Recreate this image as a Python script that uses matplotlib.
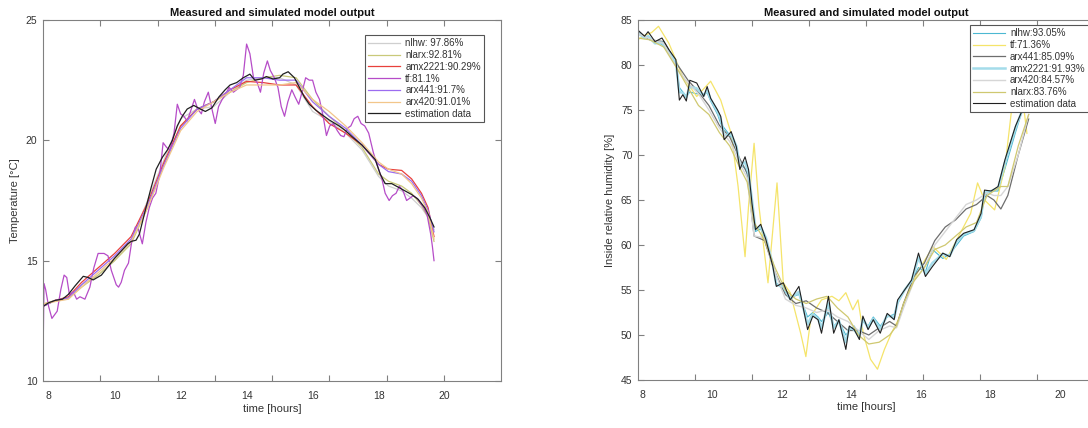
import matplotlib
matplotlib.use("Agg")
import matplotlib.pyplot as plt

plt.rcParams['font.family'] = ['Liberation Sans', 'DejaVu Sans']

# ---- left panel: temperature ----
t_smooth = [7.83, 8.2, 8.6, 9.0, 9.5, 10.0, 10.5, 11.0, 11.5, 12.0, 12.5, 13.0, 13.5, 14.0,
            14.5, 15.0, 15.5, 16.0, 16.5, 17.0, 17.5, 18.0, 18.3, 18.7, 19.0, 19.3, 19.5, 19.68]
temp_nlhw = [13.1, 13.35, 13.4, 14.0, 14.4, 15.0, 15.8, 17.5, 19.2, 20.9, 21.3, 21.4, 22.0, 22.5,
             22.6, 22.6, 22.3, 21.2, 20.8, 20.3, 19.6, 18.5, 18.1, 17.9, 17.6, 17.2, 16.8, 16.3]
temp_nlarx = [13.2, 13.35, 13.45, 13.9, 14.4, 15.0, 15.7, 17.2, 19.0, 20.6, 21.3, 21.6, 22.0, 22.4,
              22.6, 22.7, 22.6, 21.7, 21.0, 20.4, 19.7, 18.6, 18.3, 18.1, 17.8, 17.3, 16.8, 15.8]
temp_amx2221 = [13.1, 13.35, 13.5, 14.1, 14.7, 15.3, 16.0, 17.4, 19.1, 20.6, 21.3, 21.6, 22.1, 22.45,
                22.4, 22.3, 22.3, 21.4, 20.7, 20.3, 19.8, 19.0, 18.8, 18.75, 18.4, 17.8, 17.2, 16.0]
temp_arx441 = [13.1, 13.35, 13.45, 14.0, 14.6, 15.2, 15.9, 17.3, 19.0, 20.5, 21.3, 21.6, 22.1, 22.6,
               22.6, 22.5, 22.5, 21.6, 21.0, 20.5, 19.8, 19.0, 18.7, 18.6, 18.3, 17.7, 17.1, 16.2]
temp_arx420 = [13.2, 13.3, 13.4, 13.9, 14.5, 15.1, 15.8, 17.2, 18.9, 20.4, 21.2, 21.6, 22.0, 22.3,
               22.3, 22.3, 22.4, 21.7, 21.2, 20.6, 19.9, 19.1, 18.8, 18.6, 18.2, 17.6, 17.0, 15.9]

t_tf = [7.83, 7.86, 7.91, 8.0, 8.1, 8.26, 8.37, 8.47, 8.55, 8.63, 8.75, 8.85, 8.95, 9.1, 9.25, 9.37,
        9.5, 9.68, 9.8, 9.9, 10.05, 10.12, 10.2, 10.3, 10.42, 10.52, 10.63, 10.72, 10.84, 10.95, 11.05,
        11.15, 11.25, 11.37, 11.47, 11.58, 11.68, 11.8, 11.9, 12.0, 12.1, 12.2, 12.3, 12.42, 12.52,
        12.63, 12.72, 12.84, 12.95, 13.05, 13.15, 13.26, 13.36, 13.47, 13.6, 13.79, 13.9, 14.0, 14.1,
        14.21, 14.32, 14.42, 14.52, 14.63, 14.72, 14.84, 14.95, 15.05, 15.15, 15.25, 15.37, 15.47,
        15.58, 15.68, 15.79, 15.9, 16.0, 16.1, 16.21, 16.32, 16.42, 16.52, 16.63, 16.75, 16.85, 16.95,
        17.05, 17.16, 17.26, 17.37, 17.47, 17.58, 17.7, 17.84, 17.95, 18.1, 18.2, 18.32, 18.42, 18.53,
        18.63, 18.74, 18.85, 18.95, 19.05, 19.16, 19.26, 19.37, 19.47, 19.58, 19.63, 19.68]
temp_tf = [10.8, 14.05, 13.8, 13.1, 12.6, 12.9, 13.8, 14.4, 14.3, 13.6, 13.7, 13.4, 13.5, 13.4, 13.9,
           14.7, 15.3, 15.3, 15.2, 14.6, 14.0, 13.9, 14.1, 14.6, 14.9, 15.8, 16.4, 16.3, 15.7, 16.6,
           17.2, 17.6, 17.8, 18.6, 19.9, 19.7, 19.6, 20.3, 21.5, 21.1, 21.0, 20.8, 21.2, 21.7, 21.3,
           21.1, 21.6, 22.0, 21.3, 20.7, 21.4, 21.7, 21.9, 22.2, 22.0, 22.2, 22.7, 24.0, 23.6, 22.6,
           22.4, 22.0, 22.8, 23.3, 22.9, 22.6, 22.2, 21.4, 21.0, 21.6, 22.1, 21.8, 21.5, 22.0, 22.6,
           22.5, 22.5, 22.0, 21.7, 21.0, 20.2, 20.6, 20.7, 20.4, 20.2, 20.15, 20.5, 20.6, 20.9, 21.0,
           20.7, 20.6, 20.3, 19.5, 19.0, 18.4, 17.8, 17.5, 17.7, 17.8, 18.1, 17.9, 17.5, 17.6, 17.7,
           17.6, 17.4, 17.2, 16.9, 16.1, 15.6, 15.0]

t_est = [7.83, 8.0, 8.2, 8.42, 8.6, 8.8, 9.05, 9.2, 9.35, 9.6, 9.8, 10.0, 10.2, 10.4, 10.5, 10.65,
         10.75, 10.95, 11.1, 11.26, 11.45, 11.6, 11.75, 11.9, 12.05, 12.2, 12.4, 12.6, 12.75, 12.95,
         13.16, 13.35, 13.5, 13.7, 13.9, 14.1, 14.25, 14.45, 14.6, 14.8, 15.0, 15.1, 15.26, 15.45,
         15.6, 15.75, 15.9, 16.1, 16.3, 16.5, 16.8, 17.0, 17.2, 17.5, 17.7, 17.9, 18.05, 18.2, 18.4,
         18.6, 18.8, 19.0, 19.2, 19.4, 19.55, 19.68]
temp_est = [13.1, 13.25, 13.35, 13.4, 13.6, 13.95, 14.35, 14.3, 14.2, 14.4, 14.75, 15.1, 15.4, 15.7,
            15.8, 15.85, 16.1, 17.2, 18.0, 18.8, 19.3, 19.6, 20.0, 20.6, 21.0, 21.3, 21.45, 21.3,
            21.2, 21.35, 21.8, 22.1, 22.3, 22.4, 22.6, 22.75, 22.5, 22.55, 22.65, 22.55, 22.6, 22.75,
            22.85, 22.6, 22.2, 21.8, 21.5, 21.25, 21.05, 20.85, 20.6, 20.4, 20.15, 19.8, 19.5, 19.2,
            18.6, 18.2, 18.2, 18.05, 17.9, 17.75, 17.55, 17.2, 16.8, 16.4]

# ---- right panel: humidity ----
t_h = [7.85, 8.2, 8.6, 9.0, 9.3, 9.6, 9.9, 10.2, 10.5, 10.8, 11.0, 11.2, 11.5, 11.8, 12.1, 12.4,
       12.7, 13.0, 13.3, 13.6, 13.9, 14.2, 14.5, 14.8, 15.1, 15.3, 15.5, 15.8, 16.1, 16.4, 16.7,
       17.0, 17.3, 17.6, 17.9, 18.1, 18.3, 18.5, 18.8, 19.1]
hum_arx441 = [83.7, 82.8, 82.6, 80.0, 78.3, 77.0, 75.5, 73.3, 72.0, 69.5, 68.0, 61.0, 60.5, 57.0, 54.5,
              53.5, 53.8, 53.0, 52.5, 51.5, 50.5, 50.5, 50.0, 50.8, 51.5, 51.0, 53.5, 56.5, 58.0, 60.5,
              62.0, 62.8, 64.0, 64.5, 65.5, 65.0, 64.0, 65.5, 70.0, 74.0]
hum_arx420 = [83.5, 82.9, 82.4, 79.5, 78.0, 76.8, 75.0, 73.0, 71.5, 69.0, 67.5, 61.0, 60.8, 57.0, 54.0,
              53.3, 53.0, 52.5, 52.8, 52.0, 51.5, 50.5, 49.5, 50.5, 51.0, 50.8, 53.0, 56.0, 57.5, 60.0,
              61.5, 63.0, 64.5, 65.0, 65.8, 65.5, 65.5, 66.5, 70.0, 74.5]
hum_nlarx = [83.0, 82.8, 82.0, 79.5, 77.5, 75.5, 74.5, 72.5, 71.0, 68.5, 67.0, 62.5, 60.5, 57.5, 55.0,
             54.0, 53.5, 54.0, 54.3, 53.0, 52.0, 50.0, 49.0, 49.2, 50.0, 51.0, 53.5, 56.0, 57.5, 59.5,
             60.0, 61.0, 62.0, 62.5, 65.5, 66.0, 66.5, 66.5, 71.0, 74.5]

t_fast = [7.85, 8.05, 8.15, 8.35, 8.55, 8.75, 8.95, 9.05, 9.15, 9.25, 9.35, 9.55, 9.75, 9.85, 9.95,
          10.15, 10.24, 10.34, 10.54, 10.69, 10.79, 10.94, 11.04, 11.14, 11.24, 11.39, 11.54, 11.74,
          11.84, 12.04, 12.24, 12.49, 12.74, 12.89, 13.04, 13.14, 13.34, 13.49, 13.64, 13.84, 13.94,
          14.08, 14.23, 14.33, 14.48, 14.63, 14.83, 15.03, 15.23, 15.33, 15.53, 15.73, 15.93, 16.13,
          16.33, 16.63, 16.83, 17.03, 17.23, 17.53, 17.73, 17.83, 18.02, 18.22, 18.42, 18.72, 18.92,
          19.1]
hum_est = [83.9, 83.2, 83.7, 82.6, 83.0, 81.7, 80.6, 76.1, 76.7, 76.0, 78.3, 78.0, 76.5, 77.6, 76.3,
           75.0, 74.3, 71.7, 72.6, 70.9, 68.4, 69.8, 68.4, 64.6, 61.7, 62.3, 60.6, 57.6, 55.4, 55.8,
           53.9, 55.4, 50.6, 52.1, 51.7, 50.2, 54.3, 50.2, 51.7, 48.4, 51.0, 50.6, 49.5, 52.1, 50.6,
           51.7, 50.2, 52.4, 51.7, 53.9, 55.0, 56.1, 59.1, 56.5, 57.6, 59.1, 58.7, 60.6, 61.3, 61.7,
           63.5, 66.1, 66.0, 66.5, 69.5, 73.2, 75.0, 78.0]
hum_nlhw = [83.5, 83.1, 83.0, 82.5, 82.3, 81.3, 80.2, 77.5, 77.0, 76.5, 77.0, 76.8, 76.8, 76.9, 76.0,
            74.5, 73.5, 73.0, 72.0, 71.0, 69.0, 68.5, 67.5, 65.0, 61.5, 61.8, 60.5, 58.0, 55.8, 55.0,
            54.2, 54.5, 52.0, 52.5, 52.0, 51.5, 52.5, 51.0, 51.5, 50.0, 50.5, 51.0, 50.0, 51.5, 51.0,
            52.0, 51.0, 52.0, 52.3, 53.5, 55.0, 56.0, 57.5, 57.0, 59.5, 58.5, 59.0, 60.0, 61.0, 61.5,
            63.0, 65.5, 66.0, 66.0, 68.5, 72.5, 75.0, 77.5]
hum_amx2221 = [83.6, 83.0, 83.2, 82.4, 82.5, 81.4, 80.3, 77.0, 76.9, 76.4, 77.6, 77.4, 76.6, 77.2, 76.2,
               74.8, 74.0, 72.2, 72.3, 71.0, 68.8, 69.2, 68.0, 65.0, 61.8, 62.0, 60.8, 57.8, 55.6, 55.4,
               54.0, 54.8, 51.2, 52.3, 51.8, 50.8, 53.5, 50.8, 51.6, 49.2, 50.8, 50.6, 49.8, 51.8, 50.8,
               51.8, 50.6, 52.2, 51.9, 53.6, 55.0, 56.0, 58.6, 56.8, 58.0, 59.0, 58.8, 60.4, 61.2, 61.6,
               63.2, 65.8, 66.0, 66.3, 69.2, 73.0, 75.0, 77.8]

t_htf = [7.85, 8.05, 8.25, 8.45, 8.75, 9.15, 9.55, 9.95, 10.24, 10.54, 10.74, 10.94, 11.04, 11.2,
         11.34, 11.6, 11.73, 11.86, 12.04, 12.24, 12.54, 12.69, 12.84, 13.14, 13.44, 13.64, 13.84,
         14.04, 14.19, 14.34, 14.55, 14.75, 14.95, 15.15, 15.35, 15.65, 15.95, 16.35, 16.73, 17.13,
         17.43, 17.63, 17.83, 18.12, 18.42, 18.62, 18.92, 19.05]
hum_tf = [82.8, 83.3, 83.6, 84.3, 82.4, 78.7, 76.5, 78.2, 76.1, 72.4, 66.5, 58.7, 64.3, 71.3, 64.3,
          55.8, 61.3, 66.9, 55.8, 54.7, 50.2, 47.6, 52.1, 53.9, 54.3, 53.8, 54.7, 52.8, 53.9, 50.2,
          47.3, 46.2, 48.4, 50.2, 51.7, 55.0, 57.3, 59.8, 58.4, 61.3, 63.5, 66.9, 65.0, 63.9, 68.7,
          75.4, 76.5, 72.4]

GRAY = '#808080'
TXT = '#333333'

fig = plt.figure(figsize=(10.88, 4.28), dpi=100)
ax1 = fig.add_axes([43 / 1088, 1 - 381 / 428, 458 / 1088, 361 / 428])
ax2 = fig.add_axes([638 / 1088, 1 - 380 / 428, 456 / 1088, 360 / 428])

ax1.plot(t_smooth, temp_nlhw, color='#cfcfcf', lw=0.9, label='nlhw: 97.86%')
ax1.plot(t_smooth, temp_nlarx, color='#c9c97a', lw=0.9, label='nlarx:92.81%')
ax1.plot(t_smooth, temp_amx2221, color='#e8403c', lw=0.9, label='amx2221:90.29%')
ax1.plot(t_tf, temp_tf, color='#b64cc8', lw=0.9, label='tf:81.1%')
ax1.plot(t_smooth, temp_arx441, color='#9c6cf0', lw=0.9, label='arx441:91.7%')
ax1.plot(t_smooth, temp_arx420, color='#f2c68a', lw=0.9, label='arx420:91.01%')
ax1.plot(t_est, temp_est, color='#202020', lw=0.9, label='estimation data')

ax2.plot(t_fast, hum_nlhw, color='#4cb8d2', lw=0.8, label='nlhw:93.05%')
ax2.plot(t_htf, hum_tf, color='#f5e46a', lw=0.9, label='tf:71.36%')
ax2.plot(t_h, hum_arx441, color='#6e6e6e', lw=0.9, label='arx441:85.09%')
ax2.plot(t_fast, hum_amx2221, color='#a4dcea', lw=1.8, label='amx2221:91.93%')
ax2.plot(t_h, hum_arx420, color='#d6d6d6', lw=1.0, label='arx420:84.57%')
ax2.plot(t_h, hum_nlarx, color='#cfc870', lw=0.9, label='nlarx:83.76%')
ax2.plot(t_fast, hum_est, color='#202020', lw=0.8, label='estimation data')


def style(ax, xlim, ylim, yticks, ylabel):
    ax.set_xlim(xlim)
    ax.set_ylim(ylim)
    ax.set_xticks([8, 10, 12, 14, 16, 18, 20])
    ax.set_yticks(yticks)
    # tick marks sit at eighths of the axis width
    span = xlim[1] - xlim[0]
    ax.set_xticks([xlim[0] + k * span / 8 for k in range(1, 8)], minor=True)
    ax.tick_params(axis='x', which='major', length=0, pad=7, labelsize=7.5, colors=TXT)
    ax.tick_params(axis='x', which='minor', direction='in', length=4, top=True,
                   color=GRAY, width=0.8)
    ax.tick_params(axis='y', which='major', direction='in', length=4, right=True,
                   color=GRAY, width=0.8, labelsize=7.5, labelcolor=TXT, pad=4)
    for s in ax.spines.values():
        s.set_color(GRAY)
        s.set_linewidth(0.8)
    ax.set_title('Measured and simulated model output', fontsize=8, fontweight='bold',
                 pad=3, color='#111111')
    ax.set_xlabel('time [hours]', fontsize=8, color=TXT, labelpad=2)
    ax.set_ylabel(ylabel, fontsize=8, color=TXT, labelpad=4)


style(ax1, (7.83, 21.71), (10, 25), [10, 15, 20, 25], 'Temperature [°C]')
style(ax2, (7.86, 20.98), (45, 85), [45, 50, 55, 60, 65, 70, 75, 80, 85],
      'Inside relative humidity [%]')

leg_kw = dict(fontsize=7, handlelength=3.3, labelspacing=0.18, borderpad=0.35,
              handletextpad=0.5, fancybox=False, framealpha=1, edgecolor='#555555')
l1 = ax1.legend(loc='upper right', bbox_to_anchor=(0.974, 0.972), **leg_kw)
l2 = ax2.legend(loc='upper right', bbox_to_anchor=(1.0, 1.0), **leg_kw)
for lg in (l1, l2):
    lg.get_frame().set_linewidth(0.8)
    for t in lg.get_texts():
        t.set_color(TXT)

fig.savefig('out.png', dpi=100)
